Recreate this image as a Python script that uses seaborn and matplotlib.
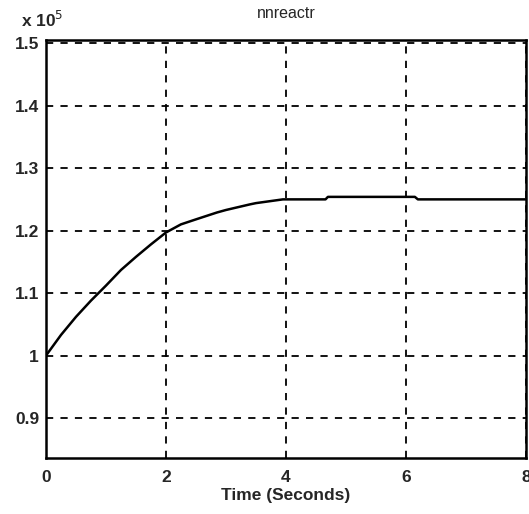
import matplotlib
matplotlib.use("Agg")
import matplotlib.pyplot as plt
import seaborn as sns
import pandas as pd

sns.set_theme(style="white")
plt.rcParams['font.family'] = ['Liberation Sans', 'DejaVu Sans']

# time (s) and response (x 1e5)
time = [0.0, 0.25, 0.5, 0.75, 1.0, 1.25, 1.5, 1.75, 2.0, 2.25, 2.5, 2.85, 3.0, 3.4,
        3.5, 3.95, 4.0, 4.66, 4.7, 6.15, 6.2, 8.0]
value = [1.0, 1.033, 1.062, 1.088, 1.112, 1.137, 1.158, 1.178, 1.197, 1.21, 1.218, 1.229,
         1.233, 1.242, 1.244, 1.25, 1.25, 1.25, 1.254, 1.254, 1.25, 1.25]
xticks = [0, 2, 4, 6, 8]
yticks = [0.9, 1.0, 1.1, 1.2, 1.3, 1.4, 1.5]
yticklabels = ["0.9", "1", "1.1", "1.2", "1.3", "1.4", "1.5"]

df = pd.DataFrame({"t": time, "v": value})

fig = plt.figure(figsize=(5.29, 5.14), dpi=100)
ax = fig.add_axes([0.087, 0.109, 0.907, 0.813])
sns.lineplot(data=df, x="t", y="v", ax=ax, color="black", linewidth=1.8)

ax.set_xlim(0, 8)
ax.set_ylim(0.836, 1.505)
ax.set_xticks(xticks)
ax.set_xticklabels([str(x) for x in xticks], fontsize=12.5, fontweight="bold")
ax.set_yticks(yticks)
ax.set_yticklabels(yticklabels, fontsize=12.5, fontweight="bold")
ax.tick_params(axis="x", direction="in", length=4, width=1.2, color="black", pad=9)
ax.tick_params(axis="y", direction="in", length=4, width=1.2, color="black", pad=5)
ax.grid(True, color="black", linestyle=(0, (4, 4)), linewidth=1.3)
for s in ax.spines.values():
    s.set_color("black")
    s.set_linewidth(1.8)
ax.set_xlabel("Time (Seconds)", fontsize=12.5, fontweight="bold", labelpad=2)
ax.set_ylabel("")
ax.set_title("nnreactr", fontsize=11.5, pad=16)
fig.text(0.04, 0.947, r"x 10$^5$", fontsize=12.5, fontweight="bold")

fig.savefig("out.png", dpi=100, facecolor="white")
